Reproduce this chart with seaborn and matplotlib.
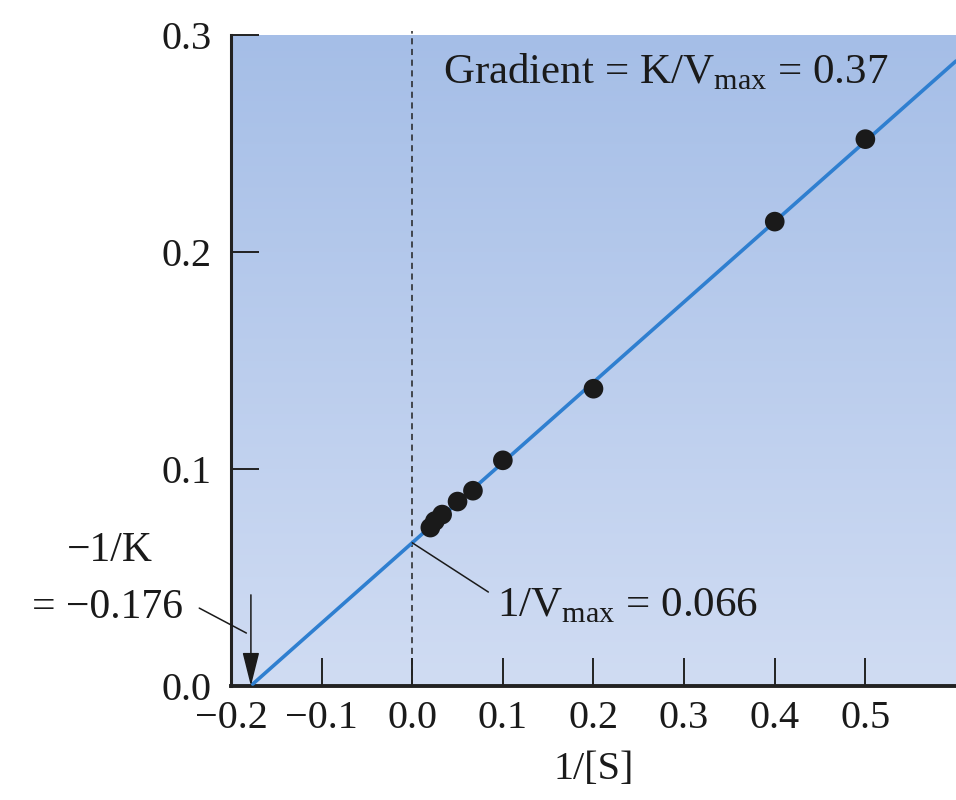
import numpy as np
import pandas as pd
import matplotlib
matplotlib.use('Agg')
import matplotlib.pyplot as plt
from matplotlib.colors import LinearSegmentedColormap
import seaborn as sns

# Lineweaver-Burk data
inv_s = [0.02, 0.025, 0.033, 0.05, 0.067, 0.1, 0.2, 0.4, 0.5]
inv_v = [0.073, 0.076, 0.079, 0.085, 0.090, 0.104, 0.137, 0.214, 0.252]

slope = 0.37
intercept = 0.066
x_intercept = -0.176
x_end = 0.6

x_ticks = [-0.2, -0.1, 0.0, 0.1, 0.2, 0.3, 0.4, 0.5]
y_ticks = [0.0, 0.1, 0.2, 0.3]

sns.set_theme(style='ticks')
plt.rcParams['font.family'] = ['Liberation Serif', 'DejaVu Serif']
plt.rcParams['mathtext.fontset'] = 'custom'
plt.rcParams['mathtext.rm'] = 'Liberation Serif'
plt.rcParams['axes.unicode_minus'] = True

fig = plt.figure(figsize=(9.56, 8), dpi=100)
ax = fig.add_axes([0.2416, 0.1425, 0.7584, 0.81375])

# gradient background
cmap = LinearSegmentedColormap.from_list('bg', ['#d0dcf3', '#a5bee7'])
grad = np.linspace(0, 1, 256).reshape(-1, 1)
ax.imshow(grad, extent=[0, 1, 0, 1], transform=ax.transAxes, origin='lower',
          aspect='auto', cmap=cmap, zorder=0)

# fitted line
line_df = pd.DataFrame({'x': [x_intercept, x_end],
                        'y': [intercept + slope * x_intercept, intercept + slope * x_end]})
sns.lineplot(data=line_df, x='x', y='y', ax=ax, color='#2f7fd0', linewidth=2.6, zorder=3)

# data points
pts = pd.DataFrame({'x': inv_s, 'y': inv_v})
sns.scatterplot(data=pts, x='x', y='y', ax=ax, color='#1a1a1a', s=200,
                edgecolor='none', zorder=4)

# dashed line at x = 0
ax.plot([0, 0], [0, 0.302], color='#222222', linestyle=(0, (4, 3)), linewidth=1.1,
        clip_on=False, zorder=2)

ax.set_xlim(-0.2, 0.6)
ax.set_ylim(0, 0.3)
ax.set_xticks(x_ticks)
ax.set_yticks(y_ticks)
ax.set_xticklabels([f'{t:.1f}'.replace('-', '\u2212') for t in x_ticks])
ax.set_yticklabels([f'{t:.1f}' for t in y_ticks])
ax.tick_params(axis='both', direction='in', length=20, width=1.4, colors='#222222',
               labelsize=29, labelcolor='#1a1a1a')
ax.tick_params(axis='x', pad=10)
ax.tick_params(axis='y', pad=14)
ax.set_xlabel('1/[S]', fontsize=29, color='#1a1a1a', labelpad=10)
ax.set_ylabel('')

sns.despine(ax=ax, top=True, right=True)
ax.spines['left'].set_linewidth(2.2)
ax.spines['bottom'].set_linewidth(2.8)
ax.spines['left'].set_color('#222222')
ax.spines['bottom'].set_color('#222222')

# annotations
ax.text(0.034, 0.283, 'Gradient = K/V$_{\\mathregular{max}}$ = 0.37', fontsize=31,
        color='#1a1a1a', va='center', ha='left', zorder=5)

ax.text(0.094, 0.037, '1/V$_{\\mathregular{max}}$ = 0.066', fontsize=31,
        color='#1a1a1a', va='center', ha='left', zorder=5)
ax.plot([0.0, 0.084], [intercept, 0.0433], color='#1a1a1a', linewidth=1.1, zorder=5)

ax.text(-0.334, 0.0625, '\u22121/K', fontsize=30, color='#1a1a1a',
        ha='center', va='center', clip_on=False)
ax.text(-0.253, 0.036, '= \u22120.176', fontsize=30, color='#1a1a1a',
        ha='right', va='center', clip_on=False)
ax.plot([-0.235, -0.183], [0.0359, 0.0244], color='#1a1a1a', linewidth=1.1,
        clip_on=False, zorder=5)
ax.annotate('', xy=(x_intercept - 0.002, 0.0), xytext=(x_intercept - 0.002, 0.042),
            arrowprops=dict(arrowstyle='-|>,head_length=1.4,head_width=0.35',
                            mutation_scale=15, color='#1a1a1a', linewidth=1.1,
                            shrinkA=0, shrinkB=0),
            annotation_clip=False, zorder=5)

fig.savefig('out.png', dpi=100)
